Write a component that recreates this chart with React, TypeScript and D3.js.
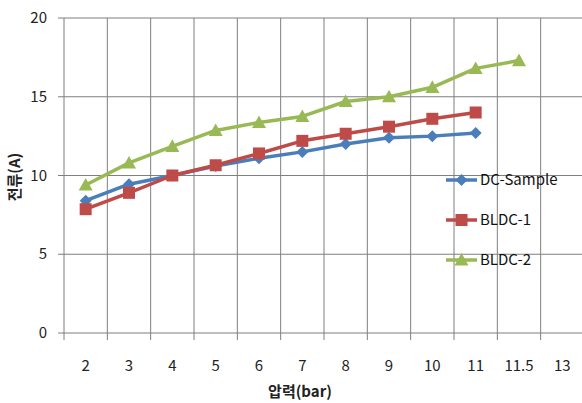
import React from "react";
import * as d3 from "d3";

const categories = ["2", "3", "4", "5", "6", "7", "8", "9", "10", "11", "11.5", "13"];
const dcSample = [8.4, 9.45, 10.0, 10.6, 11.1, 11.5, 12.0, 12.4, 12.5, 12.7, null, null];
const bldc1 = [7.86, 8.9, 10.0, 10.65, 11.4, 12.2, 12.65, 13.1, 13.6, 14.0, null, null];
const bldc2 = [9.4, 10.8, 11.85, 12.86, 13.37, 13.75, 14.7, 15.0, 15.6, 16.8, 17.3, null];
const yTicks = [0, 5, 10, 15, 20];

const W = 582;
const H = 403;
const FONT = "'Noto Sans CJK KR', 'Noto Sans', sans-serif";

type Series = { name: string; values: (number | null)[]; color: string; marker: "diamond" | "square" | "triangle" };

const series: Series[] = [
  { name: "DC-Sample", values: dcSample, color: "#4a7ebb", marker: "diamond" },
  { name: "BLDC-1", values: bldc1, color: "#be4b48", marker: "square" },
  { name: "BLDC-2", values: bldc2, color: "#98b954", marker: "triangle" },
];

function Marker({ kind, x, y, color }: { kind: string; x: number; y: number; color: string }) {
  if (kind === "diamond") {
    const r = 6;
    return <path d={`M${x},${y - r}L${x + r},${y}L${x},${y + r}L${x - r},${y}Z`} fill={color} />;
  }
  if (kind === "square") {
    const r = 6;
    return <rect x={x - r} y={y - r} width={2 * r} height={2 * r} fill={color} />;
  }
  const r = 7;
  return <path d={`M${x},${y - r}L${x + r},${y + r * 0.8}L${x - r},${y + r * 0.8}Z`} fill={color} />;
}

export default function App() {
  const x = d3.scaleBand<string>().domain(categories).range([64, 584]);
  const y = d3.scaleLinear().domain([0, 20]).range([333, 18]);
  const bw = x.bandwidth();
  const boundaries = categories.map((c) => x(c)!).concat([x(categories[categories.length - 1])! + bw]);

  const line = d3
    .line<{ c: string; v: number | null }>()
    .defined((d) => d.v !== null)
    .x((d) => x(d.c)! + bw / 2)
    .y((d) => y(d.v as number));

  const legendY = [180, 220, 260];

  return (
    <svg
      width={W}
      height={H}
      style={{ position: "absolute", left: 0, top: 0, background: "#fff" }}
      fontFamily={FONT}
    >
      {/* horizontal grid */}
      {yTicks.map((t) => (
        <g key={"y" + t}>
          <line x1={58} x2={584} y1={y(t)} y2={y(t)} stroke="#7f7f7f" strokeWidth={1} />
          <text x={47} y={y(t) + 5} textAnchor="end" fontSize={15} fill="#222">
            {t}
          </text>
        </g>
      ))}
      {/* vertical grid */}
      {boundaries.map((bx, i) => (
        <line key={"x" + i} x1={bx} x2={bx} y1={y(20)} y2={y(0) + 7} stroke="#7f7f7f" strokeWidth={1} />
      ))}
      {categories.map((c) => (
        <text key={"c" + c} x={x(c)! + bw / 2} y={371} textAnchor="middle" fontSize={15} fill="#222">
          {c}
        </text>
      ))}
      {/* axis titles */}
      <text x={300} y={397} textAnchor="middle" fontSize={15} fontWeight="bold" fill="#222">
        압력(bar)
      </text>
      <text
        transform={`translate(20,177) rotate(-90)`}
        textAnchor="middle"
        fontSize={15}
        fontWeight="bold"
        fill="#222"
      >
        전류(A)
      </text>
      {/* series */}
      {series.map((s) => {
        const pts = categories.map((c, i) => ({ c, v: s.values[i] }));
        return (
          <g key={s.name}>
            <path d={line(pts) || ""} fill="none" stroke={s.color} strokeWidth={3.5} strokeLinejoin="round" />
            {pts
              .filter((p) => p.v !== null)
              .map((p) => (
                <Marker key={p.c} kind={s.marker} x={x(p.c)! + bw / 2} y={y(p.v as number)} color={s.color} />
              ))}
          </g>
        );
      })}
      {/* legend */}
      {series.map((s, i) => (
        <g key={"lg" + s.name}>
          <line x1={446} x2={477} y1={legendY[i]} y2={legendY[i]} stroke={s.color} strokeWidth={3.5} />
          <Marker kind={s.marker} x={461.5} y={legendY[i]} color={s.color} />
          <text x={480} y={legendY[i] + 5} fontSize={15} fill="#111">
            {s.name}
          </text>
        </g>
      ))}
    </svg>
  );
}
